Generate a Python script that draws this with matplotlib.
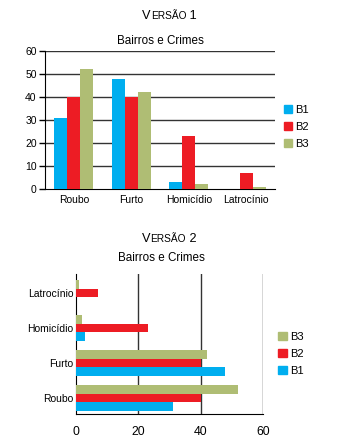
import numpy as np
import matplotlib
matplotlib.use("Agg")
from matplotlib import pyplot as plt
from matplotlib.patches import Patch

plt.rcParams['font.family'] = ['Liberation Sans', 'DejaVu Sans']

# data
crimes = ["Roubo", "Furto", "Homicídio", "Latrocínio"]
series = ["B1", "B2", "B3"]
b1 = [31, 48, 3, 0]
b2 = [40, 40, 23, 7]
b3 = [52, 42, 2, 1]
colors = ["#00aeef", "#ed1c24", "#afbd74"]
values = [b1, b2, b3]


def small_caps_title(fig, xc, y, word, num, big=9.2, small=7.3):
    # fake small caps ("VERSÃO 1"): pieces laid out one after another on the same baseline
    r = fig.canvas.get_renderer()
    parts = [(word[0], big), (word[1:].upper(), small), (" " + num, big)]
    texts = [fig.text(0, y, s, fontsize=fs, ha='left', va='baseline') for s, fs in parts]
    widths = [t.get_window_extent(r).width / (fig.dpi * fig.get_figwidth()) for t in texts]
    x = xc - sum(widths) / 2
    for t, wd in zip(texts, widths):
        t.set_x(x)
        x += wd


fig = plt.figure(figsize=(3.5, 4.45), dpi=100)

# ---------- Versão 1: vertical bars ----------
ax1 = fig.add_axes([0.1286, 0.5753, 0.657, 0.3101])
x = np.arange(len(crimes))
w = 0.228
for i in range(3):
    ax1.bar(x + (i - 1) * w, values[i], width=w, color=colors[i], zorder=3)
ax1.set_xlim(-0.5, 3.5)
ax1.set_ylim(0, 60)
ax1.set_yticks(range(0, 61, 10))
ax1.set_xticks(x)
ax1.set_xticklabels(crimes, fontsize=7.5)
ax1.tick_params(axis='y', labelsize=7.5, length=4, width=1, pad=2)
ax1.tick_params(axis='x', length=0, pad=4)
for v in range(10, 61, 10):
    ax1.axhline(v, color='#333333', lw=1, zorder=1)
for s in ['top', 'right']:
    ax1.spines[s].set_visible(False)
ax1.set_title("Bairros e Crimes", fontsize=8.4, pad=5)
fig.legend(handles=[Patch(color=colors[i], label=series[i]) for i in range(3)],
           loc='center left', bbox_to_anchor=(0.81, 0.7146), frameon=False,
           fontsize=8, handlelength=0.75, handleheight=0.75, handletextpad=0.3,
           labelspacing=0.65, borderpad=0, borderaxespad=0)

small_caps_title(fig, 0.485, 0.957, "VERSÃO", "1")

# ---------- Versão 2: horizontal bars ----------
ax2 = fig.add_axes([0.217, 0.0697, 0.534, 0.3146])
y = np.arange(len(crimes))
h = 0.245
for i in range(3):
    ax2.barh(y + (i - 1) * h, values[i], height=h, color=colors[i], zorder=3)
ax2.set_xlim(0, 60)
ax2.set_ylim(-0.46, 3.54)
ax2.set_xticks(range(0, 61, 20))
ax2.set_yticks(y)
ax2.set_yticklabels(crimes, fontsize=7.5)
ax2.tick_params(axis='x', labelsize=8.8, length=0, pad=9)
ax2.tick_params(axis='y', length=0, pad=2)
for v in range(20, 61, 20):
    ax2.axvline(v, color='#333333', lw=1, zorder=1)
for s in ['top', 'right']:
    ax2.spines[s].set_visible(False)
ax2.set_title("Bairros e Crimes", fontsize=8.4, pad=9, x=0.46)
fig.legend(handles=[Patch(color=colors[i], label=series[i]) for i in [2, 1, 0]],
           loc='center left', bbox_to_anchor=(0.795, 0.2045), frameon=False,
           fontsize=8, handlelength=0.75, handleheight=0.75, handletextpad=0.3,
           labelspacing=0.65, borderpad=0, borderaxespad=0)

small_caps_title(fig, 0.484, 0.457, "VERSÃO", "2")

fig.savefig("out.png", dpi=100)
